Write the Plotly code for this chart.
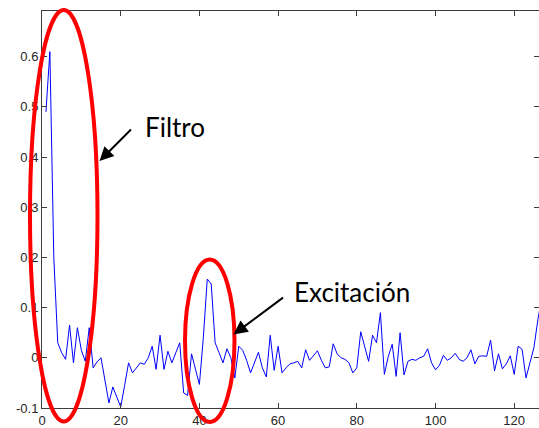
import plotly.graph_objects as go

# Data
x_vals = list(range(1, 128))
y_vals = [
    0.49, 0.61, 0.20, 0.03, 0.01, -0.003, 0.065, -0.01, 0.06, 0.015,
    -0.007, 0.06, -0.02, -0.008, 0.0, -0.045, -0.09, -0.058, -0.08, -0.098,
    -0.055, -0.01, -0.03, -0.02, -0.01, -0.013, 0.0, 0.023, -0.023, 0.045,
    -0.023, 0.013, -0.01, 0.01, 0.03, -0.07, -0.075, 0.008, -0.023, -0.053,
    0.04, 0.157, 0.147, 0.03, 0.01, -0.01, 0.018, 0.0, -0.04, 0.023,
    0.015, -0.005, -0.03, -0.01, 0.011, -0.02, -0.038, 0.045, -0.025, 0.023,
    -0.03, -0.02, -0.012, -0.01, -0.007, -0.02, 0.016, -0.005, 0.005, 0.014,
    -0.005, -0.02, -0.018, 0.028, 0.008, 0.0, -0.003, -0.01, -0.03, -0.02,
    0.052, 0.02, -0.007, 0.045, 0.03, 0.09, -0.033, 0.003, 0.027, -0.037,
    0.05, -0.034, -0.007, -0.003, -0.005, 0.0, 0.003, 0.018, -0.01, -0.024,
    -0.015, 0.005, -0.005, 0.0, 0.009, -0.003, -0.007, 0.0, 0.016, -0.012,
    0.003, 0.004, 0.003, 0.035, -0.026, 0.008, -0.022, -0.012, 0.004, -0.033,
    0.023, 0.017, -0.04, -0.01, 0.02, 0.075, 0.12,
]
x_ticks = [0, 20, 40, 60, 80, 100, 120]
y_ticks = [-0.1, 0, 0.1, 0.2, 0.3, 0.4, 0.5, 0.6]
y_tick_text = ["-0.1", "0", "0.1", "0.2", "0.3", "0.4", "0.5", "0.6"]
labels = ["Filtro", "Excitación"]

W, H = 539, 428
L, R, T, B = 42, 0, 11, 20
PW, PH = W - L - R, H - T - B


def px(xp):
    return (xp - L) / PW


def py(yp):
    return (H - B - yp) / PH


fig = go.Figure()
fig.add_trace(go.Scatter(x=x_vals, y=y_vals, mode="lines",
                         line=dict(color="#0000ff", width=1),
                         hoverinfo="skip", showlegend=False))

axis_common = dict(showline=True, linecolor="#3c3c3c", linewidth=1, mirror="ticks",
                   ticks="inside", ticklen=5, tickcolor="#3c3c3c", showgrid=False,
                   zeroline=False, tickfont=dict(family="Liberation Sans, Arial", size=13,
                                                 color="#262626"))
fig.update_xaxes(range=[0, 126.3], tickvals=x_ticks, **axis_common)
fig.update_yaxes(range=[-0.1, 0.691], tickvals=y_ticks, ticktext=y_tick_text, **axis_common)

shapes = [
    dict(type="circle", xref="paper", yref="paper",
         x0=px(30), x1=px(97.5), y0=py(421.5), y1=py(10),
         line=dict(color="#ff0000", width=4)),
    dict(type="circle", xref="paper", yref="paper",
         x0=px(185), x1=px(234.5), y0=py(422), y1=py(259.5),
         line=dict(color="#ff0000", width=4)),
]

annotations = [
    dict(xref="paper", yref="paper", x=px(99.5), y=py(161), ax=33, ay=-33,
         axref="pixel", ayref="pixel", showarrow=True, arrowhead=2, arrowsize=1.4,
         arrowwidth=2, arrowcolor="black", text=""),
    dict(xref="paper", yref="paper", x=px(233.5), y=py(334.5), ax=51, ay=-38,
         showarrow=True, arrowhead=2, arrowsize=1.4,
         arrowwidth=2, arrowcolor="black", text=""),
    dict(xref="paper", yref="paper", x=px(143), y=py(127), xanchor="left", yanchor="middle",
         showarrow=False, text=labels[0], font=dict(family="Lato", size=26, color="black")),
    dict(xref="paper", yref="paper", x=px(292), y=py(292), xanchor="left", yanchor="middle",
         showarrow=False, text=labels[1], font=dict(family="Lato", size=26, color="black")),
]

fig.update_layout(width=W, height=H, margin=dict(l=L, r=R, t=T, b=B, pad=0),
                  paper_bgcolor="white", plot_bgcolor="white",
                  shapes=shapes, annotations=annotations)

fig.write_html("out.html")
